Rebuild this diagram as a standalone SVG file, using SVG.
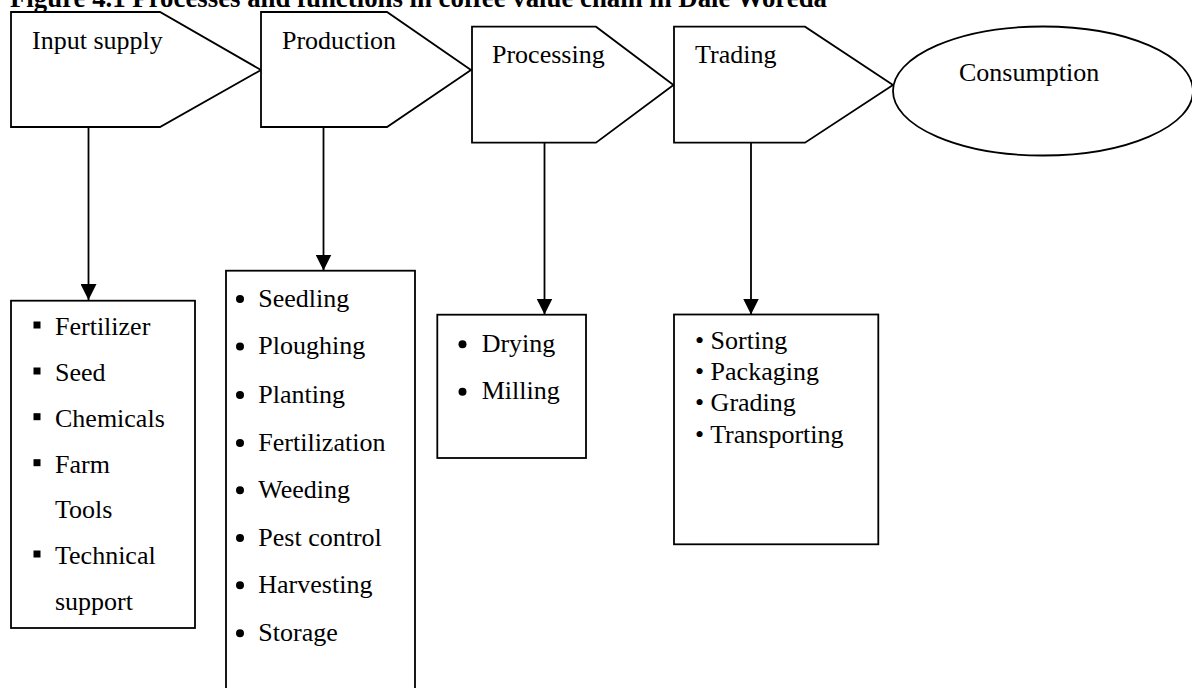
<svg xmlns="http://www.w3.org/2000/svg" width="1192" height="688" viewBox="0 0 1192 688">
  <defs>
    <marker id="ah" viewBox="0 0 16 16" refX="16" refY="8" markerWidth="16" markerHeight="16" markerUnits="userSpaceOnUse" orient="auto">
      <path d="M0,0 L16,8 L0,16 Z" fill="#000"/>
    </marker>
    <style>
      .shape { fill: #fff; stroke: #000; stroke-width: 1.8; }
      .conn { fill: none; stroke: #000; stroke-width: 1.8; }
      .t { font-family: "Liberation Serif", "Times New Roman", serif; font-size: 26px; fill: #000; }
      .title { font-family: "Liberation Serif", "Times New Roman", serif; font-size: 26.6px; font-weight: bold; fill: #000; }
      .dot { fill: #000; }
    </style>
  </defs>
  <rect width="1192" height="688" fill="#fff"/>

  <text class="title" x="10" y="7" textLength="817" lengthAdjust="spacingAndGlyphs">Figure 4.1 Processes and functions in coffee value chain in Dale Woreda</text>

  <g id="connectors">
    <line class="conn" x1="88.5" y1="127" x2="88.5" y2="300" marker-end="url(#ah)"/>
    <line class="conn" x1="323.5" y1="127" x2="323.5" y2="270.5" marker-end="url(#ah)"/>
    <line class="conn" x1="544.5" y1="142.7" x2="544.5" y2="314.5" marker-end="url(#ah)"/>
    <line class="conn" x1="751" y1="142.7" x2="751" y2="314.5" marker-end="url(#ah)"/>
  </g>

  <g id="input-supply">
    <polygon class="shape" points="11,12 160,12 261,70 160,127 11,127"/>
    <text class="t" x="32" y="49">Input supply</text>
  </g>

  <g id="production">
    <polygon class="shape" points="261,12 387,12 471,70 387,127 261,127"/>
    <text class="t" x="282" y="49">Production</text>
  </g>

  <g id="processing">
    <polygon class="shape" points="472,26.7 596,26.7 673.5,85 596,142.7 472,142.7"/>
    <text class="t" x="492" y="63">Processing</text>
  </g>

  <g id="trading">
    <polygon class="shape" points="674,26.7 805,26.7 893,85 805,142.7 674,142.7"/>
    <text class="t" x="695" y="63">Trading</text>
  </g>

  <g id="consumption">
    <ellipse class="shape" cx="1043" cy="91" rx="150" ry="64.5"/>
    <text class="t" x="959" y="81">Consumption</text>
  </g>

  <g id="input-list">
    <rect class="shape" x="11" y="300.7" width="184" height="327.3"/>
    <rect class="dot" x="33.5" y="321.5" width="7" height="7"/>
    <text class="t" x="55" y="335">Fertilizer</text>
    <rect class="dot" x="33.5" y="367.5" width="7" height="7"/>
    <text class="t" x="55" y="381">Seed</text>
    <rect class="dot" x="33.5" y="413.2" width="7" height="7"/>
    <text class="t" x="55" y="426.7">Chemicals</text>
    <rect class="dot" x="33.5" y="459.2" width="7" height="7"/>
    <text class="t" x="55" y="472.7">Farm</text>
    <text class="t" x="55" y="518">Tools</text>
    <rect class="dot" x="33.5" y="550.5" width="7" height="7"/>
    <text class="t" x="55" y="564">Technical</text>
    <text class="t" x="55" y="610">support</text>
  </g>

  <g id="production-list">
    <rect class="shape" x="226" y="270.7" width="189" height="425"/>
    <circle class="dot" cx="240" cy="299" r="4"/>
    <text class="t" x="258.3" y="306.7">Seedling</text>
    <circle class="dot" cx="240" cy="346.6" r="4"/>
    <text class="t" x="258.3" y="354.3">Ploughing</text>
    <circle class="dot" cx="240" cy="395" r="4"/>
    <text class="t" x="258.3" y="402.7">Planting</text>
    <circle class="dot" cx="240" cy="443" r="4"/>
    <text class="t" x="258.3" y="450.7">Fertilization</text>
    <circle class="dot" cx="240" cy="490.3" r="4"/>
    <text class="t" x="258.3" y="498">Weeding</text>
    <circle class="dot" cx="240" cy="538" r="4"/>
    <text class="t" x="258.3" y="545.7">Pest control</text>
    <circle class="dot" cx="240" cy="585.3" r="4"/>
    <text class="t" x="258.3" y="593">Harvesting</text>
    <circle class="dot" cx="240" cy="633.3" r="4"/>
    <text class="t" x="258.3" y="641">Storage</text>
  </g>

  <g id="processing-list">
    <rect class="shape" x="437.3" y="314.7" width="148.7" height="143.3"/>
    <circle class="dot" cx="462.5" cy="344.3" r="4"/>
    <text class="t" x="481.7" y="351.7">Drying</text>
    <circle class="dot" cx="462.5" cy="391.8" r="4"/>
    <text class="t" x="481.7" y="399.3">Milling</text>
  </g>

  <g id="trading-list">
    <rect class="shape" x="674" y="314.5" width="204.3" height="229.8"/>
    <text class="t" x="695" y="349">• Sorting</text>
    <text class="t" x="695" y="380">• Packaging</text>
    <text class="t" x="695" y="411">• Grading</text>
    <text class="t" x="695" y="442.7">• Transporting</text>
  </g>
</svg>
